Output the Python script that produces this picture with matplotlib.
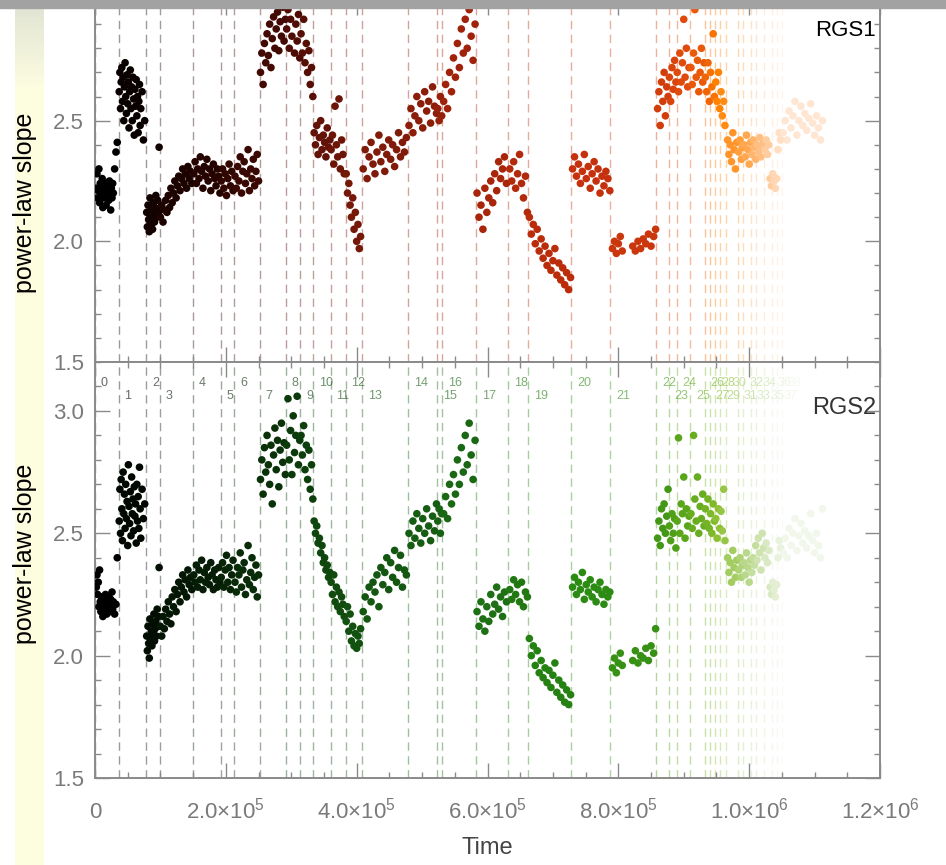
import numpy as np
import matplotlib
matplotlib.use('Agg')
import matplotlib.pyplot as plt
from matplotlib.colors import LinearSegmentedColormap, to_rgb
from matplotlib.ticker import MultipleLocator

plt.rcParams['font.family'] = ['Liberation Sans', 'DejaVu Sans']
plt.rcParams['mathtext.fontset'] = 'custom'
plt.rcParams['mathtext.rm'] = 'Liberation Sans'
plt.rcParams['mathtext.it'] = 'Liberation Sans:italic'

# segment boundaries in ks, labelled 0..38
bounds_ks = [0, 36, 78, 99, 150, 192, 213, 252, 292, 314,
             334, 360, 383, 408, 478, 523, 531, 582, 632, 662,
             728, 788, 858, 877, 889, 910, 932, 940, 948, 956,
             965, 983, 991, 1003, 1011, 1023, 1035, 1043, 1050]

# observation times (ks), grouped by segment
time_ks = [
    2, 3, 4, 5, 6, 7, 8, 9, 10, 11, 12, 13, 14, 15, 16, 17, 18, 19, 20, 21, 22, 23, 24, 25, 26, 27, 28, 30, 32, 34,
    37, 38, 39, 40, 41, 42, 43, 44, 45, 46, 47, 48, 49, 50, 51, 52, 53, 54, 55, 56, 57, 58, 59, 60, 61, 62, 63, 64,
    65, 66, 67, 68, 69, 70, 72, 74, 76,
    79, 80, 81, 82, 83, 84, 85, 86, 87, 88, 89, 90, 91, 92, 93, 94, 95, 96, 97, 98,
    100, 102, 104, 106, 108, 110, 112, 114, 116, 118, 120, 122, 124, 126, 128, 130, 132, 134, 136, 138, 140, 142,
    144, 146, 148,
    151, 153, 155, 157, 159, 161, 163, 165, 167, 169, 171, 173, 175, 177, 179, 181, 183, 185, 187, 189, 191,
    193, 195, 197, 199, 201, 203, 205, 207, 209, 211,
    214, 216, 218, 220, 222, 224, 226, 228, 230, 232, 234, 236, 238, 240, 242, 244, 246, 248, 250,
    253, 255, 257, 259, 261, 263, 265, 267, 269, 271, 273, 275, 277, 279, 281, 283, 285, 287, 289, 291,
    293, 295, 297, 299, 301, 303, 305, 307, 309, 311, 313,
    315, 317, 319, 321, 323, 325, 327, 329, 331, 333,
    335, 337, 339, 341, 343, 345, 347, 349, 351, 353, 355, 357, 359,
    361, 363, 365, 367, 369, 371, 373, 375, 377, 379, 381,
    384, 386, 388, 390, 392, 394, 396, 398, 400, 402, 404, 406,
    410, 413, 416, 419, 422, 425, 428, 431, 434, 437, 440, 443, 446, 449, 452, 455, 458, 461, 464, 467, 470, 473, 476,
    480, 483, 486, 489, 492, 495, 498, 501, 504, 507, 510, 513, 516, 519, 522,
    524, 526, 528, 530,
    533, 536, 539, 542, 545, 548, 551, 554, 557, 560, 563, 566, 569, 572, 575, 578, 581,
    584, 587, 590, 593, 596, 599, 602, 605, 608, 611, 614, 617, 620, 623, 626, 629,
    634, 637, 640, 643, 646, 649, 652, 655, 658, 661,
    664, 667, 670, 673, 676, 679, 682, 685, 688, 691, 694, 697, 700, 703, 706, 709, 712, 715, 718, 721, 724, 727,
    730, 733, 736, 739, 742, 745, 748, 751, 754, 757, 760, 763, 766, 769, 772, 775, 778, 781, 784, 787,
    791, 794, 797, 800, 803, 806, 822, 826, 830, 834, 838, 842, 846, 850, 854, 857,
    860, 862, 864, 866, 868, 870, 872, 874, 876,
    878, 880, 882, 884, 886, 888,
    890, 892, 894, 896, 898, 900, 902, 904, 906, 908,
    911, 913, 915, 917, 919, 921, 923, 925, 927, 929, 931,
    933, 935, 937, 939,
    941, 943, 945, 947,
    949, 951, 953, 955,
    957, 959, 961, 963,
    967, 969, 971, 973, 975, 977, 979, 981,
    984, 986, 988, 990,
    992, 994, 996, 998, 1000, 1002,
    1004, 1006, 1008, 1010,
    1012, 1014, 1016, 1018, 1020, 1022,
    1024, 1026, 1028, 1030, 1032, 1034,
    1036, 1038, 1040, 1042,
    1044, 1046, 1048,
    1052, 1055, 1058, 1061, 1064, 1067, 1070, 1073, 1076, 1079, 1082, 1085, 1088, 1091, 1094, 1097, 1100, 1103,
    1106, 1109, 1112,
]

slope_rgs1 = [
    2.22, 2.28, 2.18, 2.21, 2.30, 2.16, 2.24, 2.20, 2.19, 2.26, 2.14, 2.22, 2.18, 2.23, 2.20, 2.15, 2.24, 2.19, 2.21,
    2.17, 2.25, 2.20, 2.13, 2.22, 2.18, 2.24, 2.20, 2.30, 2.37, 2.41,
    2.62, 2.70, 2.55, 2.66, 2.72, 2.58, 2.68, 2.50, 2.64, 2.74, 2.60, 2.53, 2.69, 2.57, 2.66, 2.47, 2.62, 2.71, 2.55,
    2.64, 2.50, 2.68, 2.59, 2.44, 2.63, 2.56, 2.67, 2.52, 2.60, 2.45, 2.58, 2.65, 2.48, 2.55, 2.62, 2.42, 2.50,
    2.12, 2.06, 2.15, 2.09, 2.04, 2.18, 2.10, 2.07, 2.13, 2.05, 2.16, 2.11, 2.08, 2.14, 2.19, 2.10, 2.13, 2.17, 2.12, 2.39,
    2.10, 2.15, 2.08, 2.13, 2.17, 2.12, 2.19, 2.14, 2.22, 2.16, 2.20, 2.25, 2.18, 2.23, 2.27, 2.21, 2.26, 2.30, 2.24,
    2.28, 2.22, 2.31, 2.26, 2.29, 2.24,
    2.28, 2.33, 2.24, 2.30, 2.26, 2.35, 2.29, 2.22, 2.31, 2.27, 2.34, 2.25, 2.30, 2.21, 2.28, 2.32, 2.26, 2.23, 2.30,
    2.27, 2.20,
    2.25, 2.30, 2.22, 2.28, 2.19, 2.26, 2.32, 2.23, 2.29, 2.21,
    2.27, 2.22, 2.31, 2.25, 2.35, 2.20, 2.29, 2.33, 2.24, 2.28, 2.38, 2.21, 2.30, 2.26, 2.34, 2.23, 2.29, 2.36, 2.25,
    2.70, 2.78, 2.65, 2.82, 2.74, 2.86, 2.77, 2.90, 2.72, 2.84, 2.93, 2.80, 2.88, 2.95, 2.79, 2.91, 2.85, 2.97, 2.83, 2.92,
    2.88, 2.96, 2.80, 2.92, 2.85, 2.99, 2.78, 2.90, 2.83, 2.94, 2.76,
    2.86, 2.78, 2.92, 2.74, 2.82, 2.70, 2.79, 2.65, 2.72, 2.60,
    2.45, 2.40, 2.48, 2.36, 2.43, 2.50, 2.38, 2.44, 2.41, 2.35, 2.47, 2.39, 2.42,
    2.38, 2.44, 2.32, 2.56, 2.40, 2.35, 2.59, 2.30, 2.42, 2.36, 2.28,
    2.28, 2.20, 2.24, 2.15, 2.10, 2.18, 2.05, 2.12, 2.00, 2.07, 1.97, 2.02,
    2.30, 2.38, 2.26, 2.35, 2.41, 2.32, 2.28, 2.37, 2.44, 2.33, 2.39, 2.29, 2.36, 2.42, 2.34, 2.40, 2.31, 2.38, 2.45,
    2.35, 2.41, 2.37, 2.43,
    2.48, 2.55, 2.45, 2.52, 2.60, 2.50, 2.57, 2.47, 2.62, 2.54, 2.58, 2.49, 2.64, 2.56, 2.53,
    2.55, 2.50, 2.60, 2.52,
    2.58, 2.65, 2.55, 2.70, 2.62, 2.76, 2.68, 2.82, 2.72, 2.88, 2.78, 2.92, 2.80, 2.96, 2.85, 2.75, 2.90,
    2.20, 2.10, 2.15, 2.05, 2.22, 2.12, 2.18, 2.25, 2.16, 2.28, 2.21, 2.33, 2.26, 2.30, 2.35, 2.24,
    2.30, 2.25, 2.33, 2.22, 2.28, 2.36, 2.24, 2.18, 2.27, 2.12,
    2.10, 2.03, 2.07, 1.99, 2.05, 1.96, 2.01, 1.93, 1.98, 1.90, 1.95, 1.88, 1.92, 1.97, 1.86, 1.91, 1.84, 1.89, 1.82,
    1.87, 1.80, 1.85,
    2.30, 2.35, 2.27, 2.32, 2.24, 2.29, 2.36, 2.26, 2.31, 2.22, 2.28, 2.33, 2.25, 2.30, 2.20, 2.27, 2.23, 2.29, 2.26, 2.21,
    1.97, 2.00, 1.95, 1.99, 2.02, 1.96, 1.98, 1.96, 2.00, 1.97, 2.01, 1.99, 2.03, 1.98, 2.02, 2.05,
    2.55, 2.62, 2.48, 2.66, 2.58, 2.70, 2.52, 2.64, 2.60,
    2.68, 2.58, 2.72, 2.63, 2.75, 2.66,
    2.70, 2.62, 2.78, 2.66, 2.74, 2.92, 2.68, 2.80, 2.64, 2.72,
    2.72, 2.65, 2.78, 2.96, 2.68, 2.75, 2.62, 2.70, 2.80, 2.66, 2.74,
    2.68, 2.62, 2.74, 2.58,
    2.70, 2.64, 2.86, 2.60,
    2.66, 2.58, 2.70, 2.55,
    2.62, 2.52, 2.58, 2.48,
    2.42, 2.36, 2.40, 2.33, 2.45, 2.38, 2.30, 2.41,
    2.37, 2.42, 2.34, 2.39,
    2.40, 2.35, 2.44, 2.38, 2.32, 2.41,
    2.36, 2.42, 2.39, 2.34,
    2.40, 2.37, 2.43, 2.35, 2.39, 2.41,
    2.38, 2.42, 2.36, 2.40, 2.26, 2.23,
    2.28, 2.25, 2.22, 2.26,
    2.38, 2.45, 2.42,
    2.45, 2.50, 2.42, 2.54, 2.47, 2.52, 2.58, 2.44, 2.50, 2.56, 2.48, 2.53, 2.46, 2.51, 2.57, 2.49, 2.44, 2.52, 2.47,
    2.42, 2.50,
]

slope_rgs2 = [
    2.28, 2.33, 2.25, 2.30, 2.20, 2.35, 2.22, 2.18, 2.24, 2.19, 2.16, 2.23, 2.21, 2.18, 2.25, 2.20, 2.17, 2.22, 2.19,
    2.24, 2.21, 2.18, 2.23, 2.20, 2.26, 2.19, 2.22, 2.17, 2.21, 2.40,
    2.55, 2.68, 2.50, 2.72, 2.60, 2.47, 2.75, 2.58, 2.66, 2.52, 2.70, 2.56, 2.63, 2.45, 2.78, 2.61, 2.54, 2.67, 2.49,
    2.73, 2.58, 2.64, 2.51, 2.69, 2.57, 2.62, 2.46, 2.70, 2.55, 2.65, 2.52, 2.77, 2.60, 2.48, 2.68, 2.56, 2.62,
    2.08, 2.02, 2.12, 2.05, 1.99, 2.15, 2.07, 2.10, 2.04, 2.13, 2.09, 2.17, 2.06, 2.11, 2.14, 2.08, 2.19, 2.12, 2.16, 2.36,
    2.12, 2.08, 2.16, 2.11, 2.19, 2.14, 2.22, 2.17, 2.13, 2.24, 2.20, 2.27, 2.18, 2.25, 2.30, 2.22, 2.28, 2.33, 2.26,
    2.31, 2.24, 2.35, 2.29, 2.32, 2.27,
    2.33, 2.30, 2.37, 2.28, 2.35, 2.31, 2.39, 2.27, 2.34, 2.30, 2.36, 2.32, 2.29, 2.38, 2.33, 2.27, 2.35, 2.31, 2.28,
    2.36, 2.30,
    2.32, 2.38, 2.28, 2.35, 2.41, 2.30, 2.36, 2.27, 2.33, 2.39,
    2.30, 2.26, 2.36, 2.33, 2.42, 2.28, 2.35, 2.38, 2.25, 2.31, 2.45, 2.29, 2.34, 2.40, 2.27, 2.32, 2.37, 2.24, 2.33,
    2.72, 2.80, 2.66, 2.85, 2.75, 2.90, 2.78, 2.70, 2.86, 2.62, 2.82, 2.93, 2.76, 2.88, 2.69, 2.84, 2.95, 2.79, 2.87, 2.74,
    2.86, 3.05, 2.80, 2.92, 2.74, 2.98, 2.83, 2.90, 3.06, 2.78, 2.88,
    2.90, 2.82, 2.94, 2.76, 2.86, 2.72, 2.84, 2.68, 2.78, 2.64,
    2.55, 2.50, 2.53, 2.46, 2.48, 2.42, 2.45, 2.38, 2.40, 2.35, 2.37, 2.32, 2.34,
    2.30, 2.25, 2.33, 2.22, 2.28, 2.20, 2.26, 2.18, 2.24, 2.21, 2.16,
    2.14, 2.20, 2.10, 2.17, 2.06, 2.12, 2.04, 2.09, 2.03, 2.08, 2.05, 2.11,
    2.18, 2.24, 2.15, 2.28, 2.22, 2.30, 2.26, 2.33, 2.20, 2.36, 2.29, 2.34, 2.40, 2.27, 2.38, 2.32, 2.43, 2.30, 2.36,
    2.41, 2.28, 2.35, 2.33,
    2.50, 2.45, 2.55, 2.48, 2.58, 2.52, 2.46, 2.56, 2.50, 2.60, 2.53, 2.47, 2.57, 2.51, 2.62,
    2.55, 2.60, 2.50, 2.58,
    2.58, 2.65, 2.56, 2.70, 2.62, 2.74, 2.66, 2.80, 2.70, 2.85, 2.75, 2.90, 2.78, 2.95, 2.82, 2.72, 2.88,
    2.18, 2.12, 2.22, 2.15, 2.10, 2.20, 2.14, 2.25, 2.17, 2.21, 2.28, 2.19, 2.24, 2.16, 2.26, 2.22,
    2.27, 2.23, 2.31, 2.25, 2.29, 2.22, 2.30, 2.20, 2.26, 2.24,
    2.07, 2.00, 2.04, 1.96, 2.02, 1.93, 1.98, 1.91, 1.95, 1.89, 1.94, 1.87, 1.92, 1.97, 1.85, 1.90, 1.83, 1.88, 1.81,
    1.86, 1.80, 1.84,
    2.28, 2.32, 2.25, 2.30, 2.27, 2.34, 2.23, 2.29, 2.26, 2.31, 2.24, 2.28, 2.22, 2.27, 2.30, 2.25, 2.21, 2.27, 2.24, 2.26,
    1.95, 1.99, 1.93, 1.97, 2.01, 1.96, 1.98, 2.02, 1.97, 2.00, 1.99, 2.03, 1.98, 2.04, 2.01, 2.11,
    2.48, 2.55, 2.45, 2.60, 2.52, 2.62, 2.50, 2.57, 2.68,
    2.53, 2.47, 2.58, 2.50, 2.56, 2.44,
    2.55, 2.89, 2.50, 2.62, 2.58, 2.73, 2.48, 2.60, 2.53, 2.57,
    2.58, 2.52, 2.90, 2.64, 2.55, 2.73, 2.50, 2.61, 2.56, 2.66, 2.53,
    2.60, 2.54, 2.64, 2.52,
    2.58, 2.50, 2.62, 2.55,
    2.56, 2.48, 2.60, 2.52,
    2.59, 2.51, 2.68, 2.47,
    2.40, 2.34, 2.38, 2.30, 2.43, 2.36, 2.32, 2.39,
    2.35, 2.40, 2.32, 2.37,
    2.38, 2.33, 2.42, 2.36, 2.30, 2.39,
    2.34, 2.40, 2.37, 2.45,
    2.39, 2.48, 2.42, 2.35, 2.50, 2.44,
    2.40, 2.46, 2.38, 2.43, 2.28, 2.25,
    2.30, 2.27, 2.24, 2.29,
    2.40, 2.47, 2.44,
    2.42, 2.48, 2.40, 2.52, 2.45, 2.50, 2.56, 2.43, 2.49, 2.54, 2.46, 2.51, 2.44, 2.49, 2.58, 2.47, 2.42, 2.50, 2.45,
    2.40, 2.60,
]

xtick_vals = [0, 2e5, 4e5, 6e5, 8e5, 1.0e6, 1.2e6]
xtick_labels = ['0', '2.0×10$^5$', '4.0×10$^5$', '6.0×10$^5$', '8.0×10$^5$',
                '1.0×10$^6$', '1.2×10$^6$']

t = np.array(time_ks) * 1e3
bounds = np.array(bounds_ks) * 1e3
seg = np.searchsorted(bounds, t, side='right') - 1
nseg = 40.0

reds = LinearSegmentedColormap.from_list('red', [
    (0.0, '#000000'), (0.1, '#260400'), (0.2, '#4e0c04'), (0.3, '#761808'),
    (0.4, '#a0220a'), (0.5, '#c4300c'), (0.6, '#e04a0c'), (0.7, '#ff8000'),
    (0.8, '#ffa850'), (0.9, '#ffd6b4'), (1.0, '#fff4ec')])
greens = LinearSegmentedColormap.from_list('grn', [
    (0.0, '#000000'), (0.2, '#0b3a0b'), (0.4, '#1a6814'), (0.5, '#2a8a12'),
    (0.6, '#5aa61a'), (0.7, '#8cc030'), (0.8, '#b9d88c'), (0.9, '#e2eed2'),
    (1.0, '#ffffff')])

fig = plt.figure(figsize=(9.46, 8.65), dpi=100)

# slide decorations: pale strip on the left, grey bar on top
strip = fig.add_axes([15 / 946, 0, 28 / 946, 1], zorder=-1)
top_c = np.array(to_rgb('#dfe3d3'))
yel_c = np.array(to_rgb('#fdfde0'))
frac = np.clip(np.linspace(0, 1, 200) / 0.1, 0, 1)[:, None]
grad = top_c * (1 - frac) + yel_c * frac
strip.imshow(grad[:, None, :], aspect='auto', extent=[0, 1, 0, 1])
strip.axis('off')

ax1 = fig.add_axes([95 / 946, 1 - 362 / 865, 785 / 946, 362 / 865])
ax2 = fig.add_axes([95 / 946, 1 - 778 / 865, 785 / 946, 416 / 865])

grey = '#8a8a8a'
for ax, vals, cmap, ylim in [(ax1, slope_rgs1, reds, (1.5, 3.0)),
                             (ax2, slope_rgs2, greens, (1.5, 3.2))]:
    for k, b in enumerate(bounds):
        ax.axvline(b, color=cmap(k / nseg), alpha=0.4, lw=1.0,
                   ls=(0, (6, 4)), zorder=1)
    ax.scatter(t, vals, c=[cmap(s / nseg) for s in seg], s=30,
               linewidths=0, zorder=3)
    ax.set_xlim(0, 1.2e6)
    ax.set_ylim(*ylim)
    ax.yaxis.set_major_locator(MultipleLocator(0.5))
    ax.yaxis.set_minor_locator(MultipleLocator(0.1))
    ax.xaxis.set_minor_locator(MultipleLocator(5e4))
    ax.set_xticks(xtick_vals)
    ax.set_yticks([1.5, 2.0, 2.5, 3.0])
    ax.set_yticklabels(['1.5', '2.0', '2.5', '3.0'])
    ax.tick_params(which='both', direction='in', top=True, right=True,
                   color=grey, labelcolor='#7a7a7a', labelsize=16, pad=8)
    ax.tick_params(which='major', length=11, width=1.0)
    ax.tick_params(which='minor', length=4, width=1.0)
    for sp in ax.spines.values():
        sp.set_color(grey)
        sp.set_linewidth(1.4)
    ax.set_ylabel('power-law slope', fontsize=18, color='black')

ax1.set_xticklabels([])
ax1.yaxis.set_label_coords(-0.074, 0.44)
ax2.yaxis.set_label_coords(-0.074, 0.54)
ax2.set_xticklabels(xtick_labels)
ax2.tick_params(axis='x', pad=29)
for lbl in ax2.get_xticklabels():
    lbl.set_verticalalignment('baseline')
ax2.set_xlabel('Time', fontsize=17, color='#444444', labelpad=10)

# segment numbers along the top of the RGS2 panel
for k, b in enumerate(bounds):
    ax2.text(b + 9e3, 3.115 if k % 2 == 0 else 3.06, str(k), fontsize=9,
             color=greens(k / nseg), alpha=0.6, ha='left', va='center', zorder=4)

ax1.text(0.995, 0.945, 'RGS1', transform=ax1.transAxes, ha='right', va='top',
         fontsize=16, color='black')
ax2.text(0.995, 0.915, 'RGS2', transform=ax2.transAxes, ha='right', va='top',
         fontsize=17, color='#333333')

fig.patches.append(plt.Rectangle((0, 1 - 8 / 865), 1, 8 / 865,
                                 transform=fig.transFigure, color='#a2a2a2',
                                 zorder=10))

fig.savefig('out.png', dpi=100)
